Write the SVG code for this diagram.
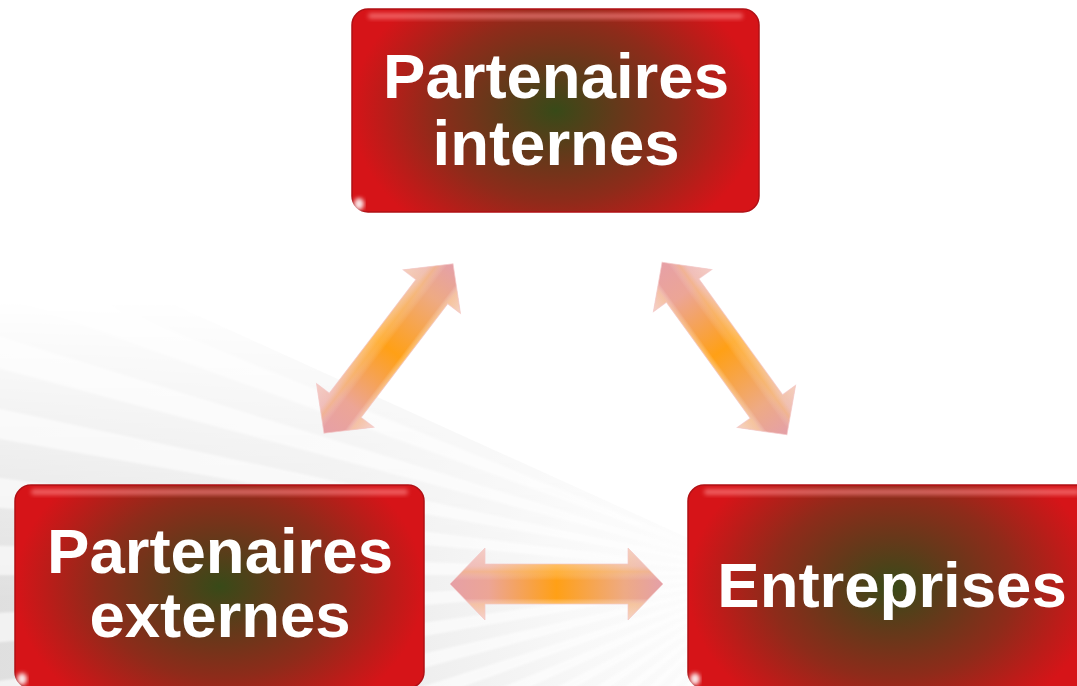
<svg xmlns="http://www.w3.org/2000/svg" xmlns:xlink="http://www.w3.org/1999/xlink" width="1077" height="686" viewBox="0 0 1077 686">
  <style>
    .lbl { font-family: "Liberation Sans", Arial, sans-serif; font-weight: bold; font-size: 63.5px; fill: #ffffff; text-anchor: middle; }
    .box { fill: url(#boxGrad); stroke: #b01015; stroke-width: 1.5; }
    .hl { fill: #ff9090; opacity: 0.6; filter: url(#soft); }
    .glint { fill: #ffffff; opacity: 0.9; filter: url(#soft); }
  </style>
  <defs>
    <radialGradient id="washGrad" cx="770" cy="575" r="820" gradientUnits="userSpaceOnUse">
      <stop offset="0" stop-color="#ffffff"/>
      <stop offset="0.25" stop-color="#f8f8f8"/>
      <stop offset="0.55" stop-color="#e9e9e9"/>
      <stop offset="1" stop-color="#dedede"/>
    </radialGradient>
    <linearGradient id="fadeGrad" x1="0" y1="300" x2="0" y2="600" gradientUnits="userSpaceOnUse">
      <stop offset="0" stop-color="#ffffff" stop-opacity="0"/>
      <stop offset="1" stop-color="#ffffff" stop-opacity="1"/>
    </linearGradient>
    <mask id="fadeMask" maskUnits="userSpaceOnUse" x="0" y="0" width="1077" height="686">
      <rect x="0" y="0" width="1077" height="686" fill="url(#fadeGrad)"/>
    </mask>
    <clipPath id="wedge">
      <polygon points="770,575 700,1000 -300,1000 -300,90"/>
    </clipPath>
    <radialGradient id="boxGrad" cx="0.5" cy="0.5" r="0.5" gradientTransform="translate(0.5,0.5) scale(1,1.5) translate(-0.5,-0.5)">
      <stop offset="0" stop-color="#384a18"/>
      <stop offset="0.3" stop-color="#64391a"/>
      <stop offset="0.6" stop-color="#8e2b1a"/>
      <stop offset="0.85" stop-color="#bc1c19"/>
      <stop offset="1" stop-color="#d61418"/>
    </radialGradient>
    <linearGradient id="arrowLen" x1="-106" y1="0" x2="106" y2="0" gradientUnits="userSpaceOnUse">
      <stop offset="0" stop-color="#e6a0a6"/>
      <stop offset="0.18" stop-color="#eca596"/>
      <stop offset="0.5" stop-color="#ffa016"/>
      <stop offset="0.82" stop-color="#eeaa84"/>
      <stop offset="1" stop-color="#e4a0a8"/>
    </linearGradient>
    <linearGradient id="arrowBevel" x1="0" y1="-36" x2="0" y2="36" gradientUnits="userSpaceOnUse">
      <stop offset="0" stop-color="#ffffff" stop-opacity="0.45"/>
      <stop offset="0.25" stop-color="#ffffff" stop-opacity="0.3"/>
      <stop offset="0.33" stop-color="#ffd080" stop-opacity="0.35"/>
      <stop offset="0.45" stop-color="#ffffff" stop-opacity="0"/>
      <stop offset="0.7" stop-color="#ffffff" stop-opacity="0"/>
      <stop offset="0.78" stop-color="#ffe0b0" stop-opacity="0.5"/>
      <stop offset="1" stop-color="#ffffff" stop-opacity="0.5"/>
    </linearGradient>
    <filter id="soft" x="-20%" y="-50%" width="140%" height="200%">
      <feGaussianBlur stdDeviation="2"/>
    </filter>
    <filter id="raysoft" x="-10%" y="-10%" width="120%" height="120%">
      <feGaussianBlur stdDeviation="1.2"/>
    </filter>
    <g id="arrow">
      <polygon points="-106.5,0 -71.5,-36 -71.5,-20 71.5,-20 71.5,-36 106.5,0 71.5,36 71.5,20 -71.5,20 -71.5,36" fill="url(#arrowLen)"/>
      <polygon points="-106.5,0 -71.5,-36 -71.5,-20 71.5,-20 71.5,-36 106.5,0 71.5,36 71.5,20 -71.5,20 -71.5,36" fill="url(#arrowBevel)" stroke="#f4c8c8" stroke-width="1" stroke-opacity="0.7"/>
    </g>
  </defs>

  <rect x="0" y="0" width="1077" height="686" fill="#ffffff"/>
  <g id="background" clip-path="url(#wedge)" mask="url(#fadeMask)">
    <rect x="0" y="0" width="1077" height="686" fill="url(#washGrad)"/>
    <g fill="#ffffff" opacity="0.6" filter="url(#raysoft)">
      <polygon points="770,575 682.8,1571 644.7,1567"/>
      <polygon points="770,575 596.4,1560 558.7,1552"/>
      <polygon points="770,575 511.2,1541 474.3,1530"/>
      <polygon points="770,575 428,1515 392.2,1501"/>
      <polygon points="770,575 347.4,1481 312.9,1464"/>
      <polygon points="770,575 270,1441 237.1,1421"/>
      <polygon points="770,575 196.4,1394 165.4,1372"/>
      <polygon points="770,575 127.2,1341 98.3,1316"/>
      <polygon points="770,575 62.9,1282 36.3,1254"/>
      <polygon points="770,575 4,1218 -20.2,1188"/>
      <polygon points="770,575 -49.2,1149 -70.6,1117"/>
      <polygon points="770,575 -96,1075 -114.6,1041"/>
      <polygon points="770,575 -136.3,998 -151.9,962"/>
      <polygon points="770,575 -169.7,917 -182.1,881"/>
      <polygon points="770,575 -195.9,834 -205.1,796"/>
      <polygon points="770,575 -214.8,749 -220.7,711"/>
      <polygon points="770,575 -226.2,662 -228.8,624"/>
      <polygon points="770,575 -230,575 -229.3,537"/>
      <polygon points="770,575 -226.2,488 -222.1,450"/>
      <polygon points="770,575 -214.8,401 -207.4,364"/>
      <polygon points="770,575 -195.9,316 -185.3,279"/>
      <polygon points="770,575 -169.7,233 -155.9,197"/>
      <polygon points="770,575 -136.3,152 -119.4,118"/>
    </g>
  </g>

  <g id="connectors">
    <use xlink:href="#arrow" href="#arrow" transform="translate(388.5,348.5) rotate(-52.7)"/>
    <use xlink:href="#arrow" href="#arrow" transform="translate(724.5,348.5) rotate(54.1)"/>
    <use xlink:href="#arrow" href="#arrow" transform="translate(556.5,584)"/>
  </g>

  <g id="node-internes">
    <rect class="box" x="352" y="9" width="407" height="203" rx="16"/>
    <rect class="hl" x="368" y="13" width="375" height="6" rx="3"/>
    <ellipse class="glint" cx="359" cy="204" rx="5" ry="6"/>
    <text class="lbl" x="556" y="98">Partenaires</text>
    <text class="lbl" x="556" y="165">internes</text>
  </g>

  <g id="node-externes">
    <rect class="box" x="15" y="485" width="409" height="203" rx="16"/>
    <rect class="hl" x="31" y="489" width="377" height="6" rx="3"/>
    <ellipse class="glint" cx="22" cy="679" rx="5" ry="6"/>
    <text class="lbl" x="220" y="573">Partenaires</text>
    <text class="lbl" x="220" y="637">externes</text>
  </g>

  <g id="node-entreprises">
    <rect class="box" x="688" y="485" width="408" height="203" rx="16"/>
    <rect class="hl" x="704" y="489" width="376" height="6" rx="3"/>
    <ellipse class="glint" cx="695" cy="679" rx="5" ry="6"/>
    <text class="lbl" x="892" y="607">Entreprises</text>
  </g>
</svg>
